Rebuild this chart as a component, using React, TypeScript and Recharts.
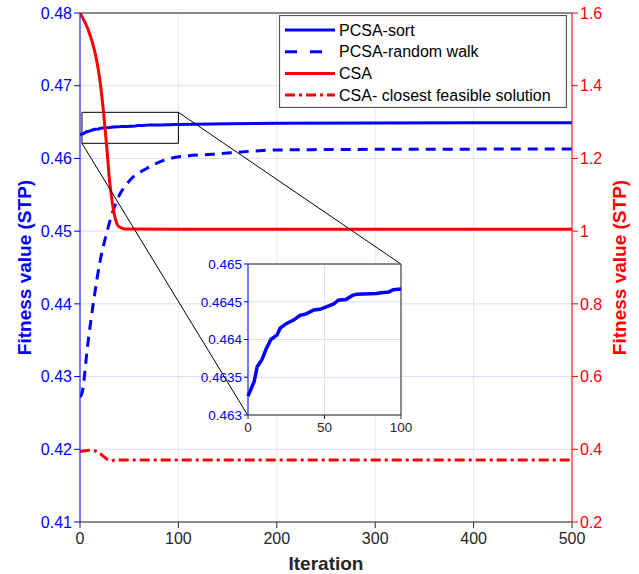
import {
  ComposedChart,
  Line,
  XAxis,
  YAxis,
  CartesianGrid,
  Legend,
  ReferenceArea,
  ReferenceLine,
} from "recharts";

// iteration / fitness pairs
const sortIter = [0, 4, 6, 9, 12, 15, 19, 21, 25, 30, 34, 38, 43, 47, 52, 56, 59, 64, 68, 71, 84, 87, 92, 95, 100, 150, 200, 300, 400, 500];
const sortFit = [0.46325, 0.46344, 0.46364, 0.46373, 0.46388, 0.464, 0.46406, 0.46415, 0.46421, 0.46426, 0.46432, 0.46434, 0.46439, 0.4644, 0.46444, 0.46447, 0.46452, 0.46453, 0.46458, 0.4646, 0.46461, 0.46462, 0.46463, 0.46466, 0.46467, 0.46478, 0.46484, 0.46488, 0.4649, 0.46491];

const walkIter = [0, 2, 8, 14, 20, 27, 37, 51, 68, 86, 110, 134, 175, 200, 300, 400, 500];
const walkFit = [0.4272, 0.42769, 0.43457, 0.44052, 0.44557, 0.4497, 0.45404, 0.45703, 0.45864, 0.45978, 0.46037, 0.46056, 0.461, 0.46116, 0.46125, 0.46128, 0.46129];

const csaIter = [0, 8, 15, 20, 24, 27, 30, 32, 34, 36, 38, 41, 46, 100, 500];
const csaFit = [1.6, 1.556, 1.494, 1.42, 1.325, 1.237, 1.14, 1.095, 1.058, 1.033, 1.018, 1.01, 1.006, 1.005, 1.005];

const closestIter = [0, 5, 11, 16, 19, 22, 25, 28, 32, 35, 100, 500];
const closestFit = [0.394, 0.396, 0.398, 0.395, 0.39, 0.385, 0.378, 0.372, 0.368, 0.3705, 0.3705, 0.3705];

const xTicks = [0, 100, 200, 300, 400, 500];
const leftTicks = [0.41, 0.42, 0.43, 0.44, 0.45, 0.46, 0.47, 0.48];
const rightTicks = [0.2, 0.4, 0.6, 0.8, 1, 1.2, 1.4, 1.6];
const insetXTicks = [0, 50, 100];
const insetYTicks = [0.463, 0.4635, 0.464, 0.4645, 0.465];

// zoom box in the main plot and where its connectors land on the inset
const zoomBox = { x1: 2, x2: 100, y1: 0.46208, y2: 0.46634 };
const connectors = [
  [{ x: 100, y: 0.46634 }, { x: 326.2, y: 0.44547 }],
  [{ x: 2, y: 0.46208 }, { x: 170.4, y: 0.4247 }],
];

const BLUE = "#0000ff";
const RED = "#ff0000";
const DARK = "#262626";
const FONT = "'Liberation Sans', Arial, Helvetica, sans-serif";

const rows = (xs: number[], ys: number[]) => xs.map((x, i) => ({ x, y: ys[i] }));

const sortData = rows(sortIter, sortFit);
const walkData = rows(walkIter, walkFit);
const csaData = rows(csaIter, csaFit);
const closestData = rows(closestIter, closestFit);
const insetData = sortData.filter((d) => d.x <= 100);

const LEGEND = [
  { name: "PCSA-sort", color: BLUE, dash: undefined },
  { name: "PCSA-random walk", color: BLUE, dash: "12 13" },
  { name: "CSA", color: RED, dash: undefined },
  { name: "CSA- closest feasible solution", color: RED, dash: "10 4 3 4" },
];

function LegendBox() {
  return (
    <svg width={288} height={93} style={{ display: "block" }}>
      <rect x={0.5} y={0.5} width={287} height={92} fill="#fff" stroke="#555" strokeWidth={1.2} />
      {LEGEND.map((item, i) => {
        const cy = 15 + i * 21.7;
        return (
          <g key={item.name}>
            <line x1={6} x2={56} y1={cy} y2={cy} stroke={item.color} strokeWidth={3} strokeDasharray={item.dash} />
            <text x={60} y={cy} dy="0.36em" fontSize={16} fontFamily={FONT} fill="#000">
              {item.name}
            </text>
          </g>
        );
      })}
    </svg>
  );
}

function sideLabel(text: string, color: string, side: "left" | "right") {
  return (props: any) => {
    const vb = props.viewBox || {};
    const cy = vb.y + vb.height / 2;
    const cx = side === "left" ? vb.x + 24 : vb.x + vb.width - 20;
    return (
      <text
        x={cx}
        y={cy}
        transform={`rotate(-90 ${cx} ${cy})`}
        textAnchor="middle"
        dominantBaseline="central"
        fontSize={19}
        fontWeight="bold"
        fontFamily={FONT}
        fill={color}
      >
        {text}
      </text>
    );
  };
}

const fmtInset = (v: number) => String(parseFloat(v.toFixed(4)));

export default function App() {
  return (
    <div style={{ position: "absolute", left: 0, top: 0, width: 639, height: 574, fontFamily: FONT }}>
      <ComposedChart
        width={639}
        height={574}
        margin={{ top: 13, right: 0, bottom: 0, left: 0 }}
      >
        <CartesianGrid yAxisId="left" vertical={false} stroke="#dcdcf7" strokeWidth={1} />
        <CartesianGrid yAxisId="left" horizontal={false} stroke="#e8e8e8" strokeWidth={1} />
        <XAxis
          dataKey="x"
          type="number"
          domain={[0, 500]}
          ticks={xTicks}
          allowDataOverflow
          height={52}
          stroke={DARK}
          tickMargin={5}
          tick={{ fill: DARK, fontSize: 16, fontFamily: FONT }}
          label={{
            content: (props: any) => {
              const vb = props.viewBox || {};
              return (
                <text
                  x={vb.x + vb.width / 2}
                  y={vb.y + 41}
                  textAnchor="middle"
                  dominantBaseline="central"
                  fontSize={19}
                  fontWeight="bold"
                  fontFamily={FONT}
                  fill={DARK}
                >
                  Iteration
                </text>
              );
            },
          }}
        />
        <YAxis
          yAxisId="left"
          type="number"
          domain={[0.41, 0.48]}
          ticks={leftTicks}
          allowDataOverflow
          width={80}
          stroke={BLUE}
          tick={{ fill: BLUE, fontSize: 16, fontFamily: FONT }}
          tickFormatter={(v: number) => v.toFixed(2)}
          label={{ content: sideLabel("Fitness value (STP)", BLUE, "left") }}
        />
        <YAxis
          yAxisId="right"
          orientation="right"
          type="number"
          domain={[0.2, 1.6]}
          ticks={rightTicks}
          allowDataOverflow
          width={67}
          stroke={RED}
          tick={{ fill: RED, fontSize: 16, fontFamily: FONT }}
          tickFormatter={(v: number) => String(parseFloat(v.toFixed(1)))}
          label={{ content: sideLabel("Fitness value (STP)", RED, "right") }}
        />
        <ReferenceLine yAxisId="left" y={0.48} stroke={DARK} strokeWidth={1} />
        <Legend
          layout="vertical"
          align="center"
          verticalAlign="middle"
          content={() => <LegendBox />}
          wrapperStyle={{ left: 279, top: 15, width: 288, height: 93 }}
        />
        <Line yAxisId="left" data={sortData} dataKey="y" type="linear" stroke={BLUE} strokeWidth={3} dot={false} isAnimationActive={false} />
        <Line yAxisId="left" data={walkData} dataKey="y" type="monotone" stroke={BLUE} strokeWidth={3} strokeDasharray="10 7" dot={false} isAnimationActive={false} />
        <Line yAxisId="right" data={csaData} dataKey="y" type="monotone" stroke={RED} strokeWidth={3} dot={false} isAnimationActive={false} />
        <Line yAxisId="right" data={closestData} dataKey="y" type="linear" stroke={RED} strokeWidth={3} strokeDasharray="10 4 3 4" dot={false} isAnimationActive={false} />
        <ReferenceArea
          yAxisId="left"
          x1={zoomBox.x1}
          x2={zoomBox.x2}
          y1={zoomBox.y1}
          y2={zoomBox.y2}
          fill="none"
          fillOpacity={0}
          stroke="#000"
          strokeWidth={1}
          ifOverflow="visible"
        />
        {connectors.map((seg, i) => (
          <ReferenceLine key={i} yAxisId="left" segment={seg} stroke="#000" strokeWidth={1} ifOverflow="visible" />
        ))}
      </ComposedChart>

      <div style={{ position: "absolute", left: 197, top: 256, width: 220, height: 180 }}>
        <ComposedChart width={220} height={180} margin={{ top: 8, right: 16, bottom: 0, left: 0 }}>
          <CartesianGrid yAxisId="inY" vertical={false} stroke="#dcdcf7" fill="#fff" fillOpacity={1} />
          <CartesianGrid yAxisId="inY" horizontal={false} stroke="#e3e3e3" />
          <XAxis
            dataKey="x"
            type="number"
            domain={[0, 100]}
            ticks={insetXTicks}
            height={21}
            stroke={DARK}
            tickSize={4}
            tickMargin={3}
            tick={{ fill: DARK, fontSize: 13.5, fontFamily: FONT }}
          />
          <YAxis
            yAxisId="inY"
            type="number"
            domain={[0.463, 0.465]}
            ticks={insetYTicks}
            allowDataOverflow
            width={51}
            stroke={BLUE}
            tickSize={4}
            tickMargin={2}
            tick={{ fill: BLUE, fontSize: 13.5, fontFamily: FONT }}
            tickFormatter={fmtInset}
          />
          <ReferenceLine yAxisId="inY" y={0.465} stroke={DARK} strokeWidth={1} />
          <ReferenceLine yAxisId="inY" x={100} stroke={DARK} strokeWidth={1} />
          <Line yAxisId="inY" data={insetData} dataKey="y" type="linear" stroke={BLUE} strokeWidth={3.5} dot={false} isAnimationActive={false} />
        </ComposedChart>
      </div>
    </div>
  );
}
